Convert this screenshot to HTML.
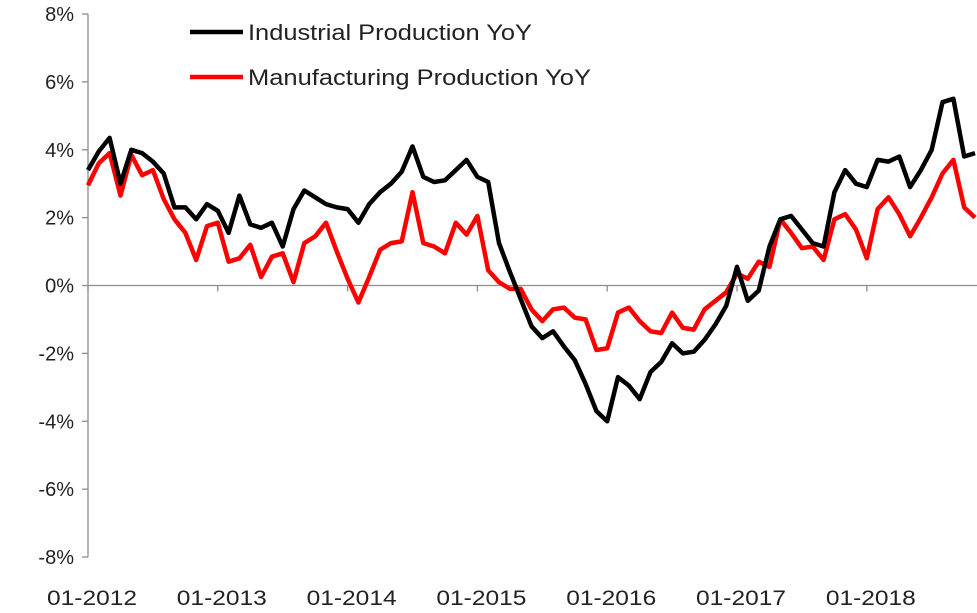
<!DOCTYPE html>
<html><head><meta charset="utf-8"><style>
html,body{margin:0;padding:0;background:#fff;}
svg{display:block;font-family:"Liberation Sans",Arial,sans-serif;}
</style></head><body>
<svg id="chart" width="977" height="613" viewBox="0 0 977 613"></svg>
<script>
const yTicks=[8,6,4,2,0,-2,-4,-6,-8];
const yearLabels=["01-2012","01-2013","01-2014","01-2015","01-2016","01-2017","01-2018"];
const industrial=[3.4,3.95,4.35,3.0,4.0,3.9,3.65,3.3,2.3,2.3,1.95,2.4,2.2,1.55,2.65,1.8,1.7,1.85,1.15,2.25,2.8,2.6,2.4,2.3,2.25,1.85,2.4,2.75,3.0,3.35,4.1,3.2,3.05,3.1,3.4,3.7,3.2,3.05,1.25,0.4,-0.4,-1.2,-1.55,-1.35,-1.8,-2.2,-2.9,-3.7,-4.0,-2.7,-2.95,-3.35,-2.55,-2.25,-1.7,-2.0,-1.95,-1.6,-1.15,-0.6,0.55,-0.45,-0.15,1.15,1.95,2.05,1.65,1.25,1.15,2.75,3.4,3.0,2.9,3.7,3.65,3.8,2.9,3.4,4.0,5.4,5.5,3.8,3.9];
const manufacturing=[2.95,3.6,3.9,2.65,3.85,3.25,3.4,2.55,1.95,1.55,0.75,1.75,1.85,0.7,0.8,1.2,0.25,0.85,0.95,0.1,1.25,1.45,1.85,1.0,0.2,-0.5,0.25,1.05,1.25,1.3,2.75,1.25,1.15,0.95,1.85,1.5,2.05,0.45,0.1,-0.1,-0.1,-0.7,-1.05,-0.7,-0.65,-0.95,-1.0,-1.9,-1.85,-0.8,-0.65,-1.05,-1.35,-1.4,-0.8,-1.25,-1.3,-0.7,-0.45,-0.2,0.35,0.2,0.7,0.55,1.95,1.55,1.1,1.15,0.75,1.95,2.1,1.65,0.8,2.25,2.6,2.1,1.45,2.0,2.6,3.3,3.7,2.3,2.0];
const svg=document.getElementById('chart');
const NS='http://www.w3.org/2000/svg';
const X0=88,X1=975,YTOP=14,YBOT=557;
function yScale(v){return YBOT-(v+8)/16*(YBOT-YTOP);}
function xScale(i){return X0+i*(X1-X0)/(industrial.length-1);}
function mk(tag,attrs){const e=document.createElementNS(NS,tag);for(const k in attrs)e.setAttribute(k,attrs[k]);svg.appendChild(e);return e;}
let ax=mk('line',{x1:X0,y1:YTOP,x2:X0,y2:YBOT,stroke:'#8c8c8c','stroke-width':1.3});


yTicks.forEach(v=>{
  const y=yScale(v);
  const t=mk('line',{x1:X0-6,y1:y,x2:X0,y2:y,stroke:'#8c8c8c','stroke-width':1.3});
  
  
  const l=mk('text',{x:74,y:y+7,'text-anchor':'end','font-size':20,fill:'#222'});
  l.textContent=v+'%';
  
  
});
const z=mk('line',{x1:X0,y1:yScale(0),x2:977,y2:yScale(0),stroke:'#8c8c8c','stroke-width':1.3});


yearLabels.forEach((s,k)=>{
  const x=xScale(k*12);
  const t=mk('line',{x1:x,y1:yScale(0),x2:x,y2:yScale(0)+6,stroke:'#8c8c8c','stroke-width':1.3});
  
  
  const l=mk('text',{x:x-41,y:605,'font-size':21,fill:'#222',textLength:90,lengthAdjust:'spacingAndGlyphs'});
  l.textContent=s;
  
  
});
function series(arr,color,name){
  const d=arr.map((v,i)=>(i?'L':'M')+xScale(i).toFixed(1)+' '+yScale(v).toFixed(1)).join(' ');
  const p=mk('path',{d:d,fill:'none',stroke:color,'stroke-width':4.5,'stroke-linejoin':'round'});
  
  
}
series(manufacturing,'#ff0000','manufacturing-production-line');
series(industrial,'#000000','industrial-production-line');
[[32,'#000','Industrial Production YoY','legend-industrial',284],[77,'#ff0000','Manufacturing Production YoY','legend-manufacturing',343]].forEach(a=>{
  const ln=mk('line',{x1:190,y1:a[0],x2:243,y2:a[0],stroke:a[1],'stroke-width':4.5});
  
  
  const tx=mk('text',{x:248,y:a[0]+8,'font-size':22,fill:'#222',textLength:a[4],lengthAdjust:'spacingAndGlyphs'});
  tx.textContent=a[2];
  
  
});
</script>
</body></html>
